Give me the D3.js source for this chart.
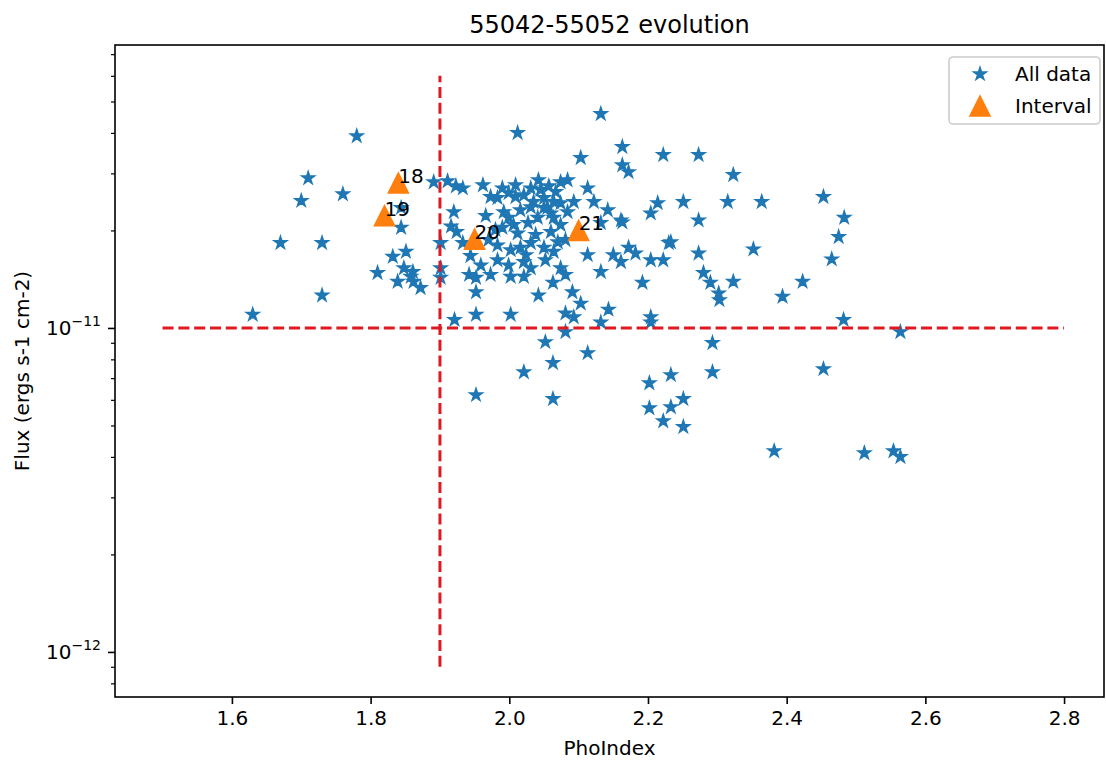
<!DOCTYPE html>
<html><head><meta charset="utf-8">
<script src="https://cdn.jsdelivr.net/npm/d3@7"></script>
<style>body{margin:0;background:#fff}svg{display:block;font-family:"DejaVu Sans",sans-serif}</style>
</head><body><svg id="c" width="1106" height="766"></svg>
<script>
const phoIndex = [
1.63,1.67,1.70,1.71,1.73,1.73,1.76,1.78,1.81,1.844,
1.844,1.832,1.851,1.848,1.861,1.839,1.862,1.872,1.858,1.891,
1.911,1.923,1.933,1.901,1.901,1.901,1.920,1.916,1.924,1.933,
1.944,1.942,1.952,1.952,1.921,1.952,1.952,1.962,1.973,1.973,
1.983,1.983,1.990,1.999,1.983,2.009,2.021,2.031,2.045,2.057,
2.067,2.074,2.084,2.035,2.050,2.064,1.992,1.999,2.006,1.990,
2.012,2.027,2.041,2.050,2.060,2.031,2.002,2.016,2.031,2.050,
1.999,2.021,2.031,2.052,2.064,2.070,2.060,2.002,2.021,2.042,
2.063,2.002,2.012,2.052,2.081,2.093,2.103,2.081,2.113,2.063,
2.021,2.063,2.093,2.074,2.055,2.084,2.064,2.113,2.122,2.142,
2.161,2.132,2.081,2.113,2.150,2.172,2.182,2.161,2.204,2.222,
2.230,2.074,2.081,2.132,2.192,2.091,2.143,2.132,2.204,2.204,
2.132,2.163,2.103,2.222,2.273,2.163,2.172,2.214,2.204,2.251,
2.315,2.364,2.273,2.233,2.273,2.352,2.280,2.290,2.302,2.323,
2.394,2.423,2.323,2.453,2.483,2.475,2.465,2.482,2.564,2.453,
2.382,2.512,2.554,2.564,2.293,2.293,2.202,2.233,2.251,2.202,
2.233,2.222,2.251,2.303,2.163,
2.016,2.038,1.970,1.959,2.024,2.074,2.009,2.042,1.966,1.980];
const flux = [
1.10e-11,1.83e-11,2.47e-11,2.90e-11,1.83e-11,1.26e-11,2.59e-11,3.91e-11,1.48e-11,2.35e-11,
2.04e-11,1.66e-11,1.72e-11,1.53e-11,1.49e-11,1.39e-11,1.39e-11,1.33e-11,1.44e-11,2.82e-11,
2.84e-11,2.74e-11,2.70e-11,1.83e-11,1.53e-11,1.43e-11,2.28e-11,2.06e-11,1.98e-11,1.83e-11,
1.67e-11,1.46e-11,1.43e-11,1.29e-11,1.06e-11,1.10e-11,6.21e-12,2.76e-11,2.54e-11,1.46e-11,
1.62e-11,1.80e-11,2.70e-11,2.61e-11,2.52e-11,2.54e-11,2.57e-11,2.70e-11,2.67e-11,2.74e-11,
2.63e-11,2.82e-11,2.86e-11,2.45e-11,2.52e-11,2.45e-11,2.28e-11,2.19e-11,2.08e-11,2.04e-11,
1.96e-11,2.11e-11,2.19e-11,2.35e-11,2.26e-11,2.36e-11,1.74e-11,1.77e-11,1.83e-11,1.77e-11,
1.56e-11,1.60e-11,1.53e-11,1.62e-11,1.72e-11,1.84e-11,1.98e-11,1.44e-11,1.44e-11,1.26e-11,
1.38e-11,1.10e-11,4.00e-11,9.05e-12,1.11e-11,1.08e-11,1.19e-11,9.72e-12,8.37e-12,7.80e-12,
7.31e-12,6.04e-12,2.45e-11,2.43e-11,2.35e-11,2.28e-11,2.19e-11,2.70e-11,2.45e-11,2.31e-11,
2.15e-11,2.11e-11,1.87e-11,1.68e-11,1.68e-11,1.77e-11,1.70e-11,1.60e-11,1.62e-11,1.62e-11,
1.83e-11,1.53e-11,1.46e-11,1.49e-11,1.38e-11,1.29e-11,1.14e-11,1.04e-11,1.08e-11,1.04e-11,
4.58e-11,3.62e-11,3.35e-11,3.42e-11,3.42e-11,3.18e-11,3.03e-11,2.43e-11,2.26e-11,2.45e-11,
2.45e-11,2.45e-11,2.15e-11,1.84e-11,1.70e-11,1.75e-11,1.48e-11,1.38e-11,1.28e-11,1.39e-11,
1.25e-11,1.39e-11,2.97e-11,2.54e-11,2.19e-11,1.91e-11,1.63e-11,1.06e-11,9.72e-12,7.47e-12,
4.17e-12,4.11e-12,4.17e-12,4.00e-12,8.99e-12,7.31e-12,6.76e-12,7.16e-12,6.04e-12,5.66e-12,
5.70e-12,5.16e-12,4.95e-12,1.22e-11,2.12e-11,
2.31e-11,1.94e-11,1.87e-11,1.56e-11,1.68e-11,2.08e-11,2.76e-11,2.86e-11,2.22e-11,2.01e-11];
const intervalPhoIndex = [1.84, 1.82, 1.95, 2.10];
const intervalFlux = [2.80e-11, 2.22e-11, 1.88e-11, 2.00e-11];
const intervalLabels = ["18", "19", "20", "21"];
const xTicks = [1.6, 1.8, 2.0, 2.2, 2.4, 2.6, 2.8];
const yMajorTicks = [1e-12, 1e-11];
const yMajorExponents = ["\u221212", "\u221211"];
const yMinorTicks = [8e-13, 9e-13, 2e-12, 3e-12, 4e-12, 5e-12, 6e-12, 7e-12, 8e-12, 9e-12, 2e-11, 3e-11, 4e-11, 5e-11, 6e-11, 7e-11];
const xLimits = [1.4314, 2.8576];
const yLimits = [7.26e-13, 7.47e-11];
const hLineFlux = [1e-11, 1e-11];
const hLineIndex = [1.5, 2.8];
const vLineIndex = [1.9, 1.9];
const vLineFlux = [9e-13, 6e-11];
const legendLabels = ["All data", "Interval"];

const svg = d3.select("#c");
const L = 115, R = 1104, T = 45, B = 697;
const x = d3.scaleLinear().domain(xLimits).range([L, R]);
const y = d3.scaleLog().domain(yLimits).range([B, T]);
const blue = "#1f77b4", orange = "#ff7f0e", red = "#dd1a22";

function starPath(r) {
  const ri = r * 0.381966, p = [];
  for (let i = 0; i < 10; i++) {
    const a = -Math.PI / 2 + i * Math.PI / 5, rr = i % 2 ? ri : r;
    p.push([rr * Math.cos(a), rr * Math.sin(a)]);
  }
  return "M" + p.map(d => d[0].toFixed(2) + "," + d[1].toFixed(2)).join("L") + "Z";
}
function triPath(r) { return `M0,${-r}L${-r},${r}L${r},${r}Z`; }

const clipId = "plotclip";
svg.append("clipPath").attr("id", clipId).append("rect").attr("x", L).attr("y", T).attr("width", R - L).attr("height", B - T);
const plot = svg.append("g").attr("clip-path", `url(#${clipId})`);

const allData = phoIndex.map((v, i) => ({x: v, y: flux[i]}));
plot.selectAll("path.star").data(allData).enter().append("path")
  .attr("class", "star").attr("d", starPath(6.5))
  .attr("transform", d => `translate(${x(d.x)},${y(d.y)})`)
  .attr("fill", blue).attr("stroke", blue).attr("stroke-width", 1.6).attr("stroke-linejoin", "miter");

const interval = intervalPhoIndex.map((v, i) => ({x: v, y: intervalFlux[i], label: intervalLabels[i]}));
plot.selectAll("path.tri").data(interval).enter().append("path")
  .attr("d", triPath(10))
  .attr("transform", d => `translate(${x(d.x)},${y(d.y)})`)
  .attr("fill", orange).attr("stroke", orange).attr("stroke-width", 1.6);

svg.selectAll("text.ann").data(interval).enter().append("text")
  .attr("x", d => x(d.x)).attr("y", d => y(d.y))
  .attr("font-size", 20).attr("fill", "#000").text(d => d.label);

const line = d3.line().x(d => x(d[0])).y(d => y(d[1]));
plot.append("path").datum(hLineIndex.map((v, i) => [v, hLineFlux[i]])).attr("d", line)
  .attr("stroke", red).attr("stroke-width", 3).attr("fill", "none").attr("stroke-dasharray", "11,4.8");
plot.append("path").datum(vLineIndex.map((v, i) => [v, vLineFlux[i]])).attr("d", line)
  .attr("stroke", red).attr("stroke-width", 3).attr("fill", "none").attr("stroke-dasharray", "11,4.8");

// frame
svg.append("rect").attr("x", L).attr("y", T).attr("width", R - L).attr("height", B - T)
  .attr("fill", "none").attr("stroke", "#000").attr("stroke-width", 1.6);

// x axis
const xa = svg.append("g").attr("transform", `translate(0,${B})`)
  .call(d3.axisBottom(x).tickValues(xTicks).tickFormat(d3.format(".1f")).tickSize(7).tickPadding(7));
xa.select(".domain").remove();
xa.selectAll(".tick line").attr("stroke-width", 1.6);
xa.selectAll(".tick text").attr("font-size", 20).attr("font-family", "DejaVu Sans").attr("fill", "#000");

// y axis major
const ya = svg.append("g").attr("transform", `translate(${L},0)`)
  .call(d3.axisLeft(y).tickValues(yMajorTicks).tickFormat("").tickSize(7));
ya.select(".domain").remove();
ya.selectAll(".tick line").attr("stroke-width", 1.6);
// minor
const ym = svg.append("g").attr("transform", `translate(${L},0)`)
  .call(d3.axisLeft(y).tickValues(yMinorTicks).tickFormat("").tickSize(4));
ym.select(".domain").remove();
ym.selectAll(".tick line").attr("stroke-width", 1.2);

// y tick labels
yMajorTicks.forEach((v, i) => {
  const t = svg.append("text").attr("x", L - 14).attr("y", y(v) + 7)
    .attr("text-anchor", "end").attr("font-size", 20).attr("fill", "#000");
  t.append("tspan").text("10");
  t.append("tspan").attr("font-size", 14).attr("dy", -9).text(yMajorExponents[i]);
});

// labels
svg.append("text").attr("x", (L + R) / 2).attr("y", 33).attr("text-anchor", "middle")
  .attr("font-size", 24).attr("fill", "#000").text("55042-55052 evolution");
svg.append("text").attr("x", (L + R) / 2).attr("y", 755).attr("text-anchor", "middle")
  .attr("font-size", 20).attr("fill", "#000").text("PhoIndex");
svg.append("text").attr("transform", `translate(29,${(T + B) / 2}) rotate(-90)`).attr("text-anchor", "middle")
  .attr("font-size", 20).attr("fill", "#000").text("Flux (ergs s-1 cm-2)");

// legend
const lg = svg.append("g");
lg.append("rect").attr("x", 949).attr("y", 57).attr("width", 151).attr("height", 67).attr("rx", 4)
  .attr("fill", "#fff").attr("fill-opacity", 0.8).attr("stroke", "#cccccc").attr("stroke-width", 1.6);
lg.append("path").attr("d", starPath(6.5)).attr("transform", "translate(980,74)")
  .attr("fill", blue).attr("stroke", blue).attr("stroke-width", 1.6);
lg.append("path").attr("d", triPath(10)).attr("transform", "translate(980,106)")
  .attr("fill", orange).attr("stroke", orange).attr("stroke-width", 1.6);
legendLabels.forEach((s, i) => {
  lg.append("text").attr("x", 1015).attr("y", 81 + i * 32).attr("font-size", 20).attr("fill", "#000").text(s);
});
</script></body></html>
